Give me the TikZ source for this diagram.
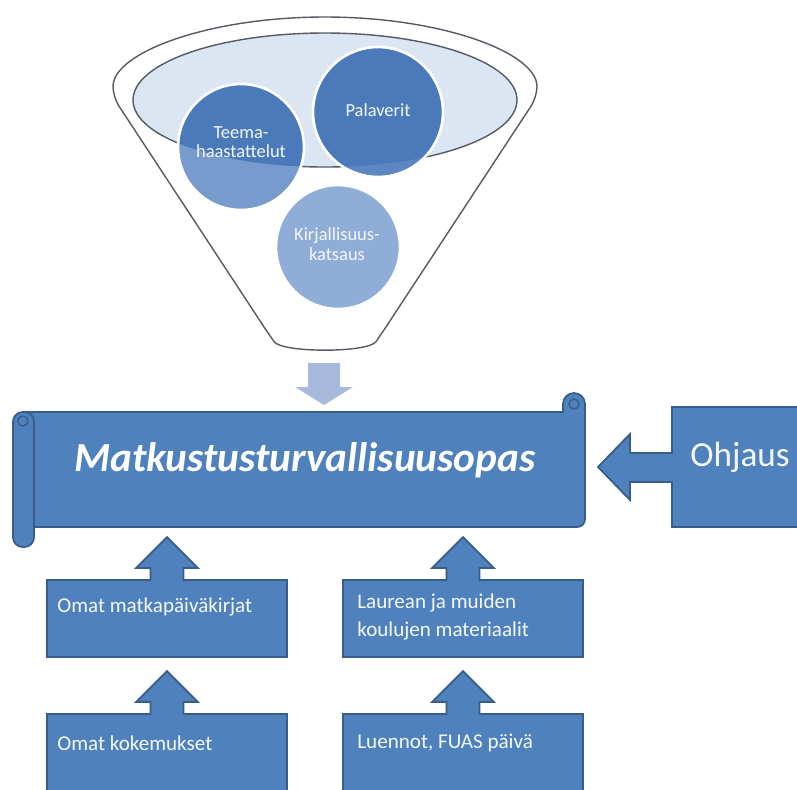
\documentclass[tikz,border=0pt]{standalone}
\usepackage{fontspec}
\setmainfont{Carlito}
\begin{document}
\begin{tikzpicture}[x=0.02cm, y=-0.02cm,
    boxStyle/.style={fill=fillColourBox, draw=borderColour, line width=1pt},
    boxText/.style={anchor=west, align=left, inner sep=0pt, text=textColour, font=\fontsize{12}{16}\selectfont},
    circleText/.style={align=center, inner sep=0pt, text=textColour, font=\fontsize{10.5}{11}\selectfont}]
    \def\boxWidth{240}

    \definecolor{borderColour}{HTML}{385D8A}
    \definecolor{fillColourBox}{HTML}{4F81BD}
    \definecolor{fillColourBowl}{HTML}{DCE5F2}
    \definecolor{funnelLine}{HTML}{555B63}
    \definecolor{arrowColour}{HTML}{A7BADB}
    \definecolor{circleDark}{HTML}{4A7AB9}
    \definecolor{circleMid}{HTML}{789BCE}
    \definecolor{circleLight}{HTML}{90ADD8}
    \definecolor{circleEdge}{HTML}{5C87C2}
    \definecolor{textColour}{HTML}{F4F8FD}

    \useasboundingbox (0,0) rectangle (797,789);

    % Funnel and bowl
    \filldraw[fill=white, draw=funnelLine, line width=0.8pt, rounded corners=6pt]
        (113,97) arc[start angle=180, end angle=360, x radius=212, y radius=80]
        -- (382,333) .. controls (368,353) and (282,353) .. (268,333) -- cycle;
    \filldraw[fill=fillColourBowl, draw=funnelLine, line width=0.8pt] (325,100) ellipse[x radius=192, y radius=67];

    % Circles, darker where they lie on the bowl
    \fill[circleMid] (241,147) circle (63);
    \fill[circleEdge] (378,112) circle (65);
    \fill[circleLight] (338,247) circle (62);
    \begin{scope}
        \clip (325,100) ellipse[x radius=192, y radius=67];
        \fill[circleDark] (241,147) circle (63);
        \fill[circleDark] (378,112) circle (65);
    \end{scope}
    \foreach \cx/\cy/\r in {241/147/63, 378/112/65, 338/247/62}
        \draw[white, line width=1.5pt] (\cx,\cy) circle (\r);

    \node[circleText] (teema) at (241,142) {Teema-\\haastattelut};
    \node[circleText] (palaverit) at (378,110) {Palaverit};
    \node[circleText] (kirjallisuus) at (337,244) {Kirjallisuus-\\katsaus};

    % Arrow out of the funnel
    \fill[arrowColour] (308,363) -- (340,363) -- (340,387) -- (353,387) -- (324,405) -- (295,387) -- (308,387) -- cycle;

    % Scroll
    \filldraw[boxStyle]
        (24,412) -- (563,412) -- (563,404) arc[start angle=180, end angle=360, radius=11]
        -- (585,519) arc[start angle=0, end angle=90, radius=8] -- (24,527) -- cycle;
    \draw[borderColour, line width=0.8pt] (574,404) circle (5);
    \filldraw[boxStyle, rounded corners=5.5pt] (13,412) rectangle (34,547);
    \draw[borderColour, line width=0.8pt] (23,421) circle (5);
    \node[text=white, font=\fontsize{23.5}{27}\selectfont\bfseries\itshape] (title) at (305,460) {Matkustusturvallisuusopas};

    % Ohjaus with left arrow
    \filldraw[boxStyle] (672,407) -- (800,407) -- (800,527) -- (672,527) -- (672,482) -- (630,482) -- (630,500)
        -- (598,467) -- (630,434) -- (630,453) -- (672,453) -- cycle;
    \node[text=textColour, font=\fontsize{20}{24}\selectfont] (ohjaus) at (740,457) {Ohjaus};

    % Boxes with up arrows
    \foreach \bx/\by in {47/580, 343/580, 47/714, 343/714}
        \filldraw[boxStyle] (\bx,\by) -- (\bx+103.5,\by) -- (\bx+103.5,\by-12) -- (\bx+89,\by-12) -- (\bx+120,\by-43)
            -- (\bx+151,\by-12) -- (\bx+136.5,\by-12) -- (\bx+136.5,\by) -- (\bx+\boxWidth,\by)
            -- (\bx+\boxWidth,\by+77) -- (\bx,\by+77) -- cycle;

    \node[boxText] (omatMatka) at (57,607) {Omat matkapäiväkirjat};
    \node[boxText] (laurea) at (357,617) {Laurean ja muiden\\koulujen materiaalit};
    \node[boxText] (omatKoke) at (57,743) {Omat kokemukset};
    \node[boxText] (luennot) at (357,743) {Luennot, FUAS päivä};

\end{tikzpicture}
\end{document}
